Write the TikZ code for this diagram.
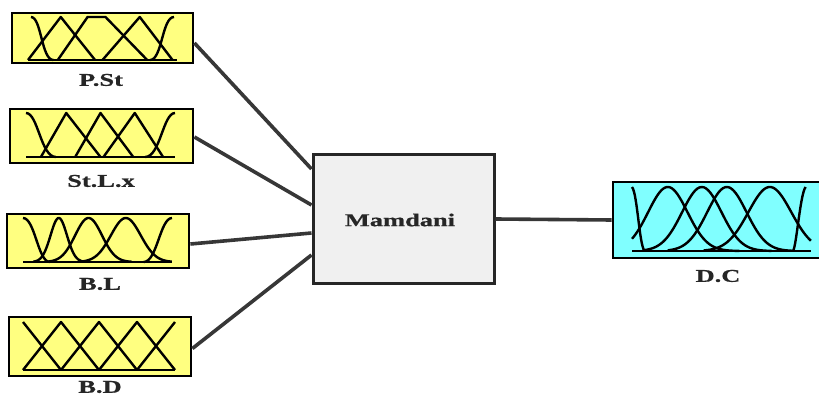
\documentclass[tikz,border=0pt]{standalone}
\usepackage{fontspec}
\setmainfont{Liberation Serif}[FakeStretch=1.47,BoldFeatures={FakeBold=0.8}]
\begin{document}
\begin{tikzpicture}[x=1pt,y=-1pt,
  inbox/.style={draw=black,line width=2.8pt,fill=inyellow,inner sep=0pt},
  outbox/.style={draw=black,line width=2.8pt,fill=outcyan,inner sep=0pt},
  engine/.style={draw=black!85,line width=3pt,fill=engray,inner sep=0pt},
  lbl/.style={font=\fontsize{18}{20}\selectfont\bfseries,text=black!85,inner sep=0pt},
  wire/.style={draw=wiregray,line width=3.6pt},
  mf/.style={draw=black,line width=2.4pt,line join=round}]
\definecolor{inyellow}{RGB}{255,255,128}
\definecolor{outcyan}{RGB}{128,255,255}
\definecolor{engray}{RGB}{240,240,240}
\definecolor{wiregray}{RGB}{55,55,55}
\useasboundingbox (0,0) rectangle (819,398);

% input variable boxes
\node[inbox,minimum width=181pt,minimum height=50pt] (pst) at (102.5,38) {};
\node[inbox,minimum width=183pt,minimum height=54pt] (stlx) at (101.5,136) {};
\node[inbox,minimum width=182pt,minimum height=54pt] (bl) at (98,241) {};
\node[inbox,minimum width=182pt,minimum height=59pt] (bd) at (100,346.5) {};

% inference engine
\node[engine,minimum width=181pt,minimum height=128pt] (mam) at (403.5,219) {};
\node[lbl] (mamtxt) at (400,220) {Mamdani};
% entry points on the engine's left side
\coordinate (m1) at ([yshift=50pt]mam.west);
\coordinate (m2) at ([yshift=14pt]mam.west);
\coordinate (m3) at ([yshift=-14pt]mam.west);
\coordinate (m4) at ([yshift=-36pt]mam.west);

% output variable box
\node[outbox,minimum width=212pt,minimum height=76pt] (dc) at (719,220) {};

% connectors
\draw[wire] ([yshift=-5pt]pst.east) -- (m1);
\draw[wire] ([yshift=-1pt]stlx.east) -- (m2);
\draw[wire] ([yshift=-3pt]bl.east) -- (m3);
\draw[wire] ([yshift=-2pt]bd.east) -- (m4);
\draw[wire] (mam.east) -- (dc.west);

% labels
\node[lbl] (lpst) at (101,80) {P.St};
\node[lbl] (lstlx) at (101,181) {St.L.x};
\node[lbl] (lbl3) at (100,284) {B.L};
\node[lbl] (lbd) at (100,387) {B.D};
\node[lbl] (ldc) at (718,276) {D.C};

% P.St membership functions
\begin{scope}[shift={(28,60)},x=149pt,y=43pt]
  \draw[mf] (0,0) -- (1,0);
  \draw[mf] (0.02,1) .. controls (0.09,1) and (0.09,0) .. (0.17,0);
  \draw[mf] (0,0) -- (0.22,1) -- (0.45,0);
  \draw[mf] (0.2,0) -- (0.4,1) -- (0.52,1) -- (0.8,0);
  \draw[mf] (0.5,0) -- (0.75,1) -- (0.97,0);
  \draw[mf] (0.82,0) .. controls (0.9,0) and (0.9,1) .. (0.98,1);
\end{scope}

% St.L.x membership functions
\begin{scope}[shift={(26,157)},x=149pt,y=44pt]
  \draw[mf] (0,0) -- (1,0);
  \draw[mf] (0,1) .. controls (0.08,1) and (0.1,0) .. (0.2,0);
  \draw[mf] (0.1,0) -- (0.27,1) -- (0.5,0);
  \draw[mf] (0.33,0) -- (0.5,1) -- (0.72,0);
  \draw[mf] (0.52,0) -- (0.73,1) -- (0.92,0);
  \draw[mf] (0.8,0) .. controls (0.9,0) and (0.92,1) .. (1,1);
\end{scope}

% B.L membership functions
\begin{scope}[shift={(23,262)},x=149pt,y=44pt]
  \draw[mf] (0,0) -- (1,0);
  \draw[mf] (0,1) .. controls (0.08,1) and (0.1,0) .. (0.18,0);
  \draw[mf] plot[domain=0.07:0.41,samples=50,smooth] (\x,{exp(-((\x-0.24)^2)/(2*0.055^2))});
  \draw[mf] plot[domain=0.15:0.73,samples=60,smooth] (\x,{exp(-((\x-0.44)^2)/(2*0.09^2))});
  \draw[mf] plot[domain=0.37:1,samples=60,smooth] (\x,{exp(-((\x-0.69)^2)/(2*0.1^2))});
  \draw[mf] (0.81,0) .. controls (0.9,0) and (0.92,1) .. (1,1);
\end{scope}

% B.D membership functions
\begin{scope}[shift={(23,370)},x=152pt,y=48pt]
  \draw[mf] (0,0) -- (1,0);
  \draw[mf] (0,1) -- (0.25,0);
  \draw[mf] (0,0) -- (0.25,1) -- (0.5,0);
  \draw[mf] (0.25,0) -- (0.5,1) -- (0.75,0);
  \draw[mf] (0.5,0) -- (0.75,1) -- (1,0);
  \draw[mf] (0.75,0) -- (1,1);
\end{scope}

% D.C membership functions
\begin{scope}[shift={(632,251)},x=179pt,y=64pt]
  \draw[mf] (0,0) -- (1,0);
  \draw[mf] (0,1) .. controls (0.03,0.9) and (0.04,0.1) .. (0.07,0);
  \draw[mf] plot[domain=0:0.6,samples=60,smooth] (\x,{exp(-((\x-0.2)^2)/(2*0.11^2))});
  \draw[mf] plot[domain=0.06:0.78,samples=60,smooth] (\x,{exp(-((\x-0.39)^2)/(2*0.11^2))});
  \draw[mf] plot[domain=0.2:0.9,samples=60,smooth] (\x,{exp(-((\x-0.53)^2)/(2*0.11^2))});
  \draw[mf] plot[domain=0.4:1,samples=60,smooth] (\x,{exp(-((\x-0.77)^2)/(2*0.12^2))});
  \draw[mf] (0.9,0) .. controls (0.92,0.1) and (0.94,0.9) .. (0.97,1);
\end{scope}
\end{tikzpicture}
\end{document}
